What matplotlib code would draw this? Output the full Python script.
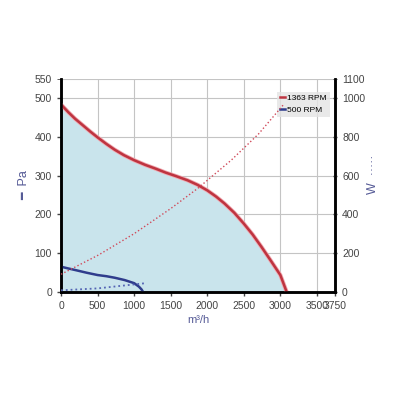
"""
Fan curve: pressure and power versus air flow at two speeds.
"""
import matplotlib
matplotlib.use("Agg")
import matplotlib.pyplot as plt
from matplotlib.ticker import FormatStrFormatter

plt.rcParams['font.family'] = ['Liberation Sans', 'DejaVu Sans']

# pressure curves (Pa)
flow_hi = [0, 100, 193, 300, 400, 500, 620, 735, 860, 1000, 1150, 1295, 1430, 1570,
           1731, 1870, 2000, 2120, 2236, 2370, 2500, 2620, 2741, 2870, 3000, 3085]
pa_hi = [484, 464, 447, 430, 414, 399, 382, 367, 353, 340, 328, 318, 308, 299,
         288, 276, 262, 246, 228, 204, 176, 148, 116, 80, 43, 0]
flow_lo = [0, 100, 193, 350, 500, 620, 735, 870, 1000, 1065, 1100, 1120]
pa_lo = [64.5, 60, 56, 49, 43, 40, 36, 30, 22, 13, 6, 0]

# power curves (W)
pflow_hi = [0, 514, 1000, 1501, 1869, 2328, 2700, 3040]
w_hi = [90, 190, 300, 430, 534, 680, 815, 966]
pflow_lo = [0, 500, 1135]
w_lo = [7, 17, 43]

labels = ["1363 RPM", "500 RPM"]
xticks = [0, 500, 1000, 1500, 2000, 2500, 3000, 3500, 3750]

RED = "#be3440"
BLUE = "#2f3c8c"
TXT = "#555a96"
TICK = "#444444"

fig = plt.figure(figsize=(3.99, 3.99), dpi=100)
ax = fig.add_axes([0.153, 0.269, 0.687, 0.533])

ax.fill_between(flow_hi, pa_hi, 0, color="#c9e4ec", zorder=1, lw=0)
ax.plot(flow_hi, pa_hi, color="#f0a8b0", lw=3, zorder=3, solid_capstyle="butt")
ax.plot(flow_hi, pa_hi, color=RED, lw=1.8, zorder=4, label=labels[0])
ax.plot(flow_lo, pa_lo, color=BLUE, lw=1.8, zorder=4, label=labels[1])

ax.set_xlim(0, 3750)
ax.set_ylim(0, 550)
ax.set_xticks(xticks)
ax.set_yticks(range(0, 551, 100))
ax.set_yticks([550], minor=True)
ax.yaxis.set_minor_formatter(FormatStrFormatter("%d"))
ax.grid(True, color="#c4c4c4", lw=0.8, zorder=0)
ax.axhline(550, color="#c4c4c4", lw=0.8, zorder=0)
ax.set_axisbelow(True)
ax.tick_params(labelsize=7.5, colors=TICK, length=3, width=1)
ax.tick_params(axis="y", which="minor", labelsize=7.5, colors=TICK, length=3)

for s in ["left", "bottom", "right"]:
    ax.spines[s].set_linewidth(1.8)
ax.spines["top"].set_visible(False)

ax2 = ax.twinx()
ax2.plot(pflow_hi, w_hi, color="#d04a5a", lw=1, ls=":", zorder=3)
ax2.plot(pflow_lo, w_lo, color="#5464b4", lw=1.3, ls=":", zorder=3)
ax2.set_ylim(0, 1100)
ax2.set_yticks(range(0, 1001, 200))
ax2.set_yticks([1100], minor=True)
ax2.yaxis.set_minor_formatter(FormatStrFormatter("%d"))
ax2.tick_params(labelsize=7.5, colors=TICK, length=3, width=1, direction="inout")
ax2.tick_params(which="minor", labelsize=7.5, colors=TICK, length=3, direction="inout")
for s in ["left", "bottom", "right"]:
    ax2.spines[s].set_linewidth(1.8)
ax2.spines["top"].set_visible(False)

ax.set_xlabel("m³/h", fontsize=8, color=TXT, labelpad=3)
ax.set_ylabel("━  Pa", fontsize=9, color=TXT)
ax.yaxis.set_label_coords(-0.113, 0.5)
ax2.set_ylabel("W  ·····", fontsize=9, color=TXT, rotation=90)
ax2.yaxis.set_label_coords(1.117, 0.55)

leg = ax.legend(loc="upper right", bbox_to_anchor=(0.995, 0.96), fontsize=6,
                handlelength=0.6, handletextpad=0.3, borderpad=0.3,
                labelspacing=0.5, frameon=True, fancybox=False)
leg.get_frame().set_facecolor("#e4e4e4")
leg.get_frame().set_edgecolor("none")
leg.set_zorder(10)

plt.savefig("out.png", dpi=100)
plt.close(fig)
